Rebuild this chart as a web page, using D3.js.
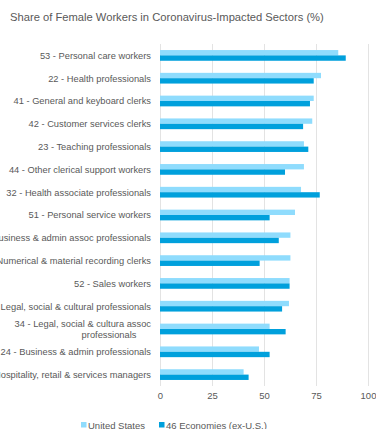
<!DOCTYPE html>
<html>
<head>
<meta charset="utf-8">
<script src="https://cdn.jsdelivr.net/npm/d3@7"></script>
<style>
  html, body { margin: 0; padding: 0; background: #fff; }
  svg { display: block; font-family: "Liberation Sans", Arial, sans-serif; }
</style>
</head>
<body>
<svg id="chart" width="376" height="429"></svg>
<script>
// Occupation groups (ISCO codes), top to bottom
const categories = [
  "53 - Personal care workers",
  "22 - Health professionals",
  "41 - General and keyboard clerks",
  "42 - Customer services clerks",
  "23 - Teaching professionals",
  "44 - Other clerical support workers",
  "32 - Health associate professionals",
  "51 - Personal service workers",
  "33 - Business & admin assoc professionals",
  "43 - Numerical & material recording clerks",
  "52 - Sales workers",
  "26 - Legal, social & cultural professionals",
  "34 - Legal, social & cultura assoc professionals",
  "24 - Business & admin professionals",
  "14 - Hospitality, retail & services managers"
];
// Share of female workers (%)
const unitedStates = [85.7, 77.4, 73.9, 73.2, 69.2, 69.2, 67.8, 64.9, 62.7, 62.7, 62.3, 62.0, 52.7, 47.6, 40.2];
const economies46 = [89.3, 73.9, 72.1, 68.8, 71.3, 60.1, 76.8, 52.7, 57.1, 47.9, 62.3, 58.7, 60.4, 52.7, 42.6];
const seriesNames = ["United States", "46 Economies (ex-U.S.)"];
const tickValues = [0, 25, 50, 75, 100];

const colors = ["#8fdcfd", "#00a0dc"];
const textColor = "#595959";

const svg = d3.select("#chart");

svg.append("text")
  .attr("x", 10).attr("y", 21)
  .attr("fill", textColor)
  .style("font-size", "11.2px")
  .text("Share of Female Workers in Coronavirus-Impacted Sectors (%)");

const x = d3.scaleLinear().domain([0, 100]).range([160, 368]);
const y = d3.scaleBand().domain(categories).range([44, 386]).paddingInner(0.53).paddingOuter(0.265);
const sub = d3.scaleBand().domain(seriesNames).range([0, y.bandwidth()]);

// Vertical gridlines
svg.append("g").selectAll("line").data(tickValues).join("line")
  .attr("x1", d => x(d)).attr("x2", d => x(d))
  .attr("y1", 44).attr("y2", 386)
  .attr("stroke", "#e3e3e3").attr("stroke-width", 1)
  .attr("shape-rendering", "crispEdges");

// X axis tick labels
const xAxis = svg.append("g").attr("transform", "translate(0,386)")
  .call(d3.axisBottom(x).tickValues(tickValues).tickSize(0).tickPadding(6));
xAxis.select(".domain").remove();
xAxis.selectAll("text").attr("fill", textColor).style("font-size", "9.5px")
  .style("font-family", "'Liberation Sans', Arial, sans-serif");

// Bars
const rows = categories.map((c, i) => ({ c, vals: [unitedStates[i], economies46[i]] }));
const g = svg.append("g");
rows.forEach(r => {
  r.vals.forEach((v, k) => {
    g.append("rect")
      .attr("x", x(0))
      .attr("y", y(r.c) + sub(seriesNames[k]))
      .attr("width", x(v) - x(0))
      .attr("height", sub.bandwidth())
      .attr("fill", colors[k]);
  });
});

// Category labels (right aligned, long ones wrapped)
const labelG = svg.append("g");
categories.forEach(c => {
  const cy = y(c) + y.bandwidth() / 2;
  const t = labelG.append("text")
    .attr("x", 151).attr("text-anchor", "end")
    .attr("fill", textColor).style("font-size", "9.3px");
  if (c.startsWith("34 - ")) {
    t.append("tspan").attr("x", 151).attr("y", cy - 2).text("34 - Legal, social & cultura assoc");
    t.append("tspan").attr("x", 109).attr("text-anchor", "middle").attr("y", cy + 9).text("professionals");
  } else {
    t.attr("y", cy + 3.3).text(c);
  }
});

// Legend
const legend = svg.append("g");
const lx = [81, 159];
seriesNames.forEach((n, k) => {
  legend.append("rect").attr("x", lx[k]).attr("y", 422).attr("width", 5.5).attr("height", 5.5).attr("fill", colors[k]);
  legend.append("text").attr("x", lx[k] + 7).attr("y", 429).attr("fill", textColor)
    .style("font-size", "9.5px").text(n);
});
</script>
</body>
</html>
